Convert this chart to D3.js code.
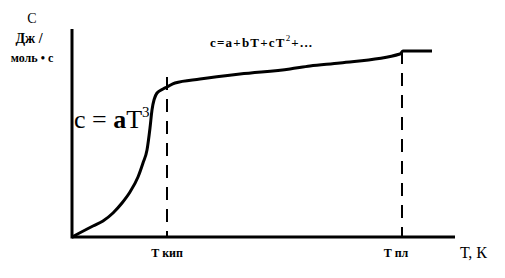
<!DOCTYPE html>
<html><head><meta charset="utf-8">
<script src="https://cdn.jsdelivr.net/npm/d3@7"></script>
<style>body{margin:0;background:#fff;} svg{display:block;}</style>
</head><body>
<svg id="c" width="505" height="278"></svg>
<script>
// Data (arbitrary units)
const T = [0, 21, 31, 41, 50, 58, 66, 71, 75, 78, 80, 85, 91, 95, 103, 128, 168, 218, 238, 268, 328, 331, 360];
const C = [0, 11, 16, 24, 34, 45, 60, 74, 87, 109, 127, 144, 148, 150, 154, 158, 163, 168, 171, 174, 183, 186, 186];
const markerT = [95, 330];
const markerC = [160, 186];
const markerLabels = ["Т кип", "Т пл"];
const xDomain = [0, 383];
const yDomain = [0, 208];

const svg = d3.select("#c");
const x = d3.scaleLinear().domain(xDomain).range([72, 455]);
const y = d3.scaleLinear().domain(yDomain).range([237, 29]);
const serif = "'Liberation Serif', 'Times New Roman', serif";

// axes
svg.append("line").attr("x1", x(0)).attr("x2", x(0)).attr("y1", y(0) + 1.5).attr("y2", y(yDomain[1]))
  .attr("stroke", "#000").attr("stroke-width", 3);
svg.append("line").attr("x1", x(0)).attr("x2", x(xDomain[1])).attr("y1", y(0)).attr("y2", y(0))
  .attr("stroke", "#000").attr("stroke-width", 3);

// dashed markers
markerT.forEach((t, i) => {
  svg.append("line").attr("x1", x(t)).attr("x2", x(t)).attr("y1", y(markerC[i])).attr("y2", y(0))
    .attr("stroke", "#000").attr("stroke-width", 2).attr("stroke-dasharray", "13,9");
  svg.append("text").attr("x", x(t) - (i === 1 ? 6 : 0)).attr("y", 257).attr("text-anchor", "middle")
    .attr("font-family", serif).attr("font-size", 12).attr("font-weight", "bold").text(markerLabels[i]);
});

// curve
const pts = T.map((t, i) => [t, C[i]]);
svg.append("path").datum(pts)
  .attr("d", d3.line().x(d => x(d[0])).y(d => y(d[1])).curve(d3.curveMonotoneX))
  .attr("fill", "none").attr("stroke", "#000").attr("stroke-width", 3).attr("stroke-linejoin", "round");

// axis labels
svg.append("text").attr("x", 32).attr("y", 23).attr("text-anchor", "middle")
  .attr("font-family", serif).attr("font-size", 14).text("С");
svg.append("text").attr("x", 29).attr("y", 43).attr("text-anchor", "middle")
  .attr("font-family", serif).attr("font-size", 14).attr("font-weight", "bold").text("Дж /");
svg.append("text").attr("x", 32).attr("y", 62).attr("text-anchor", "middle")
  .attr("font-family", serif).attr("font-size", 12).attr("font-weight", "bold").text("моль • с");
svg.append("text").attr("x", 460).attr("y", 258)
  .attr("font-family", serif).attr("font-size", 16).text("Т, К");

// formulas
const f1 = svg.append("text").attr("x", 74).attr("y", 128).attr("font-family", serif).attr("font-size", 26);
f1.append("tspan").text("c = ");
f1.append("tspan").attr("font-weight", "bold").text("a");
f1.append("tspan").text("T");
f1.append("tspan").attr("font-size", 15).attr("dy", -11).text("3");

const f2 = svg.append("text").attr("x", 210).attr("y", 47).attr("font-family", serif).attr("font-size", 13)
  .attr("font-weight", "bold").attr("letter-spacing", 1.2);
f2.append("tspan").text("c=a+bT+cT");
f2.append("tspan").attr("font-size", 9).attr("font-weight", "normal").attr("dy", -6).text("2");
f2.append("tspan").attr("dy", 6).text("+...");
</script>
</body></html>
